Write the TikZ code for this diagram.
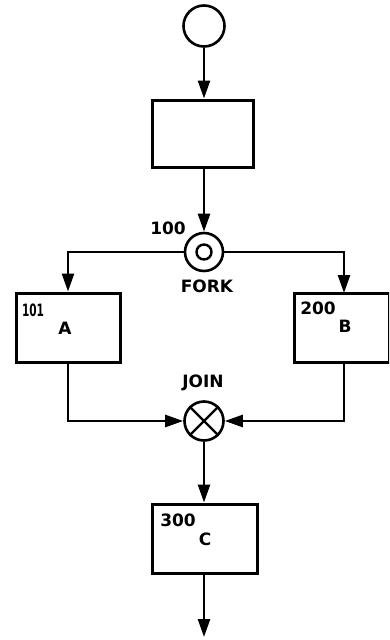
\documentclass[tikz,border=0pt]{standalone}
\usepackage{fontspec}
\setmainfont{DejaVu Sans}
\usetikzlibrary{arrows.meta}
\begin{document}
\begin{tikzpicture}[x=1pt,y=-1pt,
  lbl/.style={font=\fontsize{17}{17}\selectfont\bfseries, inner sep=0pt},
  boxnode/.style={draw, line width=3pt, inner sep=0pt},
  circnode/.style={draw, circle, line width=2.6pt, inner sep=0pt},
  arr/.style={line width=2.6pt, -{Triangle[length=18pt,width=12pt]}},
  conn/.style={line width=2.6pt}]
\clip (0,0) rectangle (389,640);
\fill[white] (0,0) rectangle (389,640);
% nodes
\node[circnode, minimum size=41pt] (start) at (204,26) {};
\node[boxnode, minimum width=101pt, minimum height=67pt] (box1) at (202.5,133.5) {};
\node[circnode, minimum size=38pt] (fork) at (204,252) {};
\node[circnode, minimum size=15pt, line width=2.4pt] (forkin) at (204,252) {};
\node[boxnode, minimum width=104pt, minimum height=69pt] (A) at (68,327.5) {};
\node[boxnode, minimum width=95pt, minimum height=69pt] (B) at (341.5,327.5) {};
\coordinate (Bin) at (344,293);
\coordinate (Bout) at (344,362);
\node[circnode, minimum size=39pt] (join) at (204,421) {};
\node[boxnode, minimum width=105pt, minimum height=69pt] (C) at (204.5,538.5) {};
\coordinate (end) at (204,637);
% labels
\node[lbl] (l100) at (168,228) {100};
\node[lbl] (lfork) at (207,286) {FORK};
\node[lbl] (l101) at (33,310) {\scalebox{0.62}[1]{101}};
\node[lbl] (lA) at (65,328) {A};
\node[lbl] (l200) at (318,308) {200};
\node[lbl] (lB) at (345,326) {B};
\node[lbl] (ljoin) at (203,383) {JOIN};
\node[lbl] (l300) at (178,520) {300};
\node[lbl] (lC) at (205,539) {C};
% join cross
\draw[line width=2.4pt] (join.45) -- (join.225) (join.135) -- (join.315);
% connectors
\draw[arr] (start.south) -- (start.south |- box1.north);
\draw[arr] (box1.south -| fork.north) -- (fork.north);
\draw[arr] (fork.west) -| (A.north);
\draw[arr] (fork.east) -| (Bin);
\draw[arr] (A.south) |- (join.west);
\draw[arr] (Bout) |- (join.east);
\draw[arr] (join.south) -- (join.south |- C.north);
\draw[arr] (C.south -| end) -- (end);
\end{tikzpicture}
\end{document}
